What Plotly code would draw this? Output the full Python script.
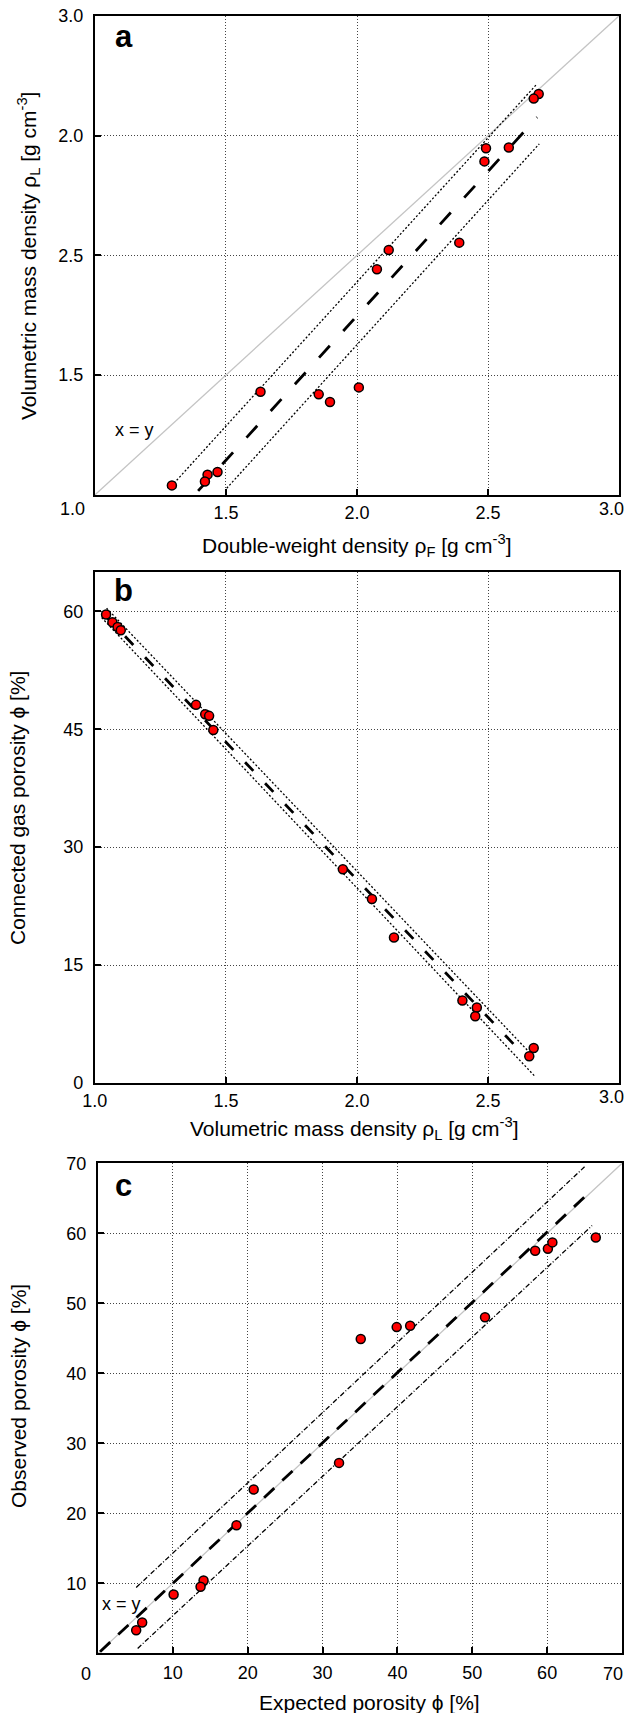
import plotly.graph_objects as go

# ---- data ----
# panel a: double-weight density vs volumetric mass density
rho_f_a = [2.693, 2.674, 2.492, 2.579, 2.486, 2.390, 2.121, 2.076,
           1.632, 2.007, 1.854, 1.897, 1.468, 1.430, 1.420, 1.294]
rho_l_a = [2.673, 2.654, 2.447, 2.450, 2.392, 2.053, 2.022, 1.942,
           1.431, 1.449, 1.420, 1.388, 1.096, 1.085, 1.056, 1.040]
fit_a_x = [1.394, 2.687]
fit_a_y = [1.017, 2.576]
upper_a_x = [1.302, 2.683]
upper_a_y = [1.049, 2.711]
lower_a_x = [1.503, 2.695]
lower_a_y = [1.028, 2.465]

# panel b: volumetric mass density vs connected gas porosity
rho_l_b = [1.043, 1.067, 1.087, 1.099, 1.386, 1.421, 1.436, 1.452,
           1.946, 2.057, 2.141, 2.402, 2.457, 2.451, 2.674, 2.657]
phi_b = [59.6, 58.6, 58.0, 57.6, 48.1, 46.9, 46.7, 44.9,
         27.2, 23.4, 18.5, 10.5, 9.6, 8.5, 4.45, 3.4]
fit_b_x = [1.039, 2.637]
fit_b_y = [59.5, 3.56]
upper_b_x = [1.045, 2.649]
upper_b_y = [60.4, 4.2]
lower_b_x = [1.026, 2.677]
lower_b_y = [59.2, 0.9]

# panel c: expected vs observed porosity
phi_exp_c = [35.1, 39.9, 41.7, 51.7, 58.4, 60.1, 60.7, 66.5,
             32.2, 20.8, 18.5, 14.1, 13.7, 10.1, 5.9, 5.1]
phi_obs_c = [44.9, 46.6, 46.8, 48.0, 57.5, 57.8, 58.7, 59.4,
             27.2, 23.4, 18.3, 10.4, 9.5, 8.4, 4.4, 3.3]
fit_c_x = [0.27, 65.7]
fit_c_y = [0.23, 65.9]
upper_c_x = [5.1, 65.0]
upper_c_y = [9.4, 69.5]
lower_c_x = [5.3, 66.0]
lower_c_y = [0.7, 61.1]

# tick labels (panel a y labels are printed swapped in the original)
ticks_a_x = [1.0, 1.5, 2.0, 2.5, 3.0]
ticktext_a_x = ["1.0", "1.5", "2.0", "2.5", "3.0"]
ticks_a_y = [1.5, 2.0, 2.5, 3.0]
ticktext_a_y = ["1.5", "2.5", "2.0", "3.0"]
ticks_b_y = [0, 15, 30, 45, 60]
ticks_c_x = [0, 10, 20, 30, 40, 50, 60, 70]
ticks_c_y = [10, 20, 30, 40, 50, 60, 70]

W, H = 624, 1713
FONT = "Liberation Sans, Arial, Helvetica, sans-serif"


def px_x(p):
    return p / W


def px_y(p):
    return 1 - p / H


fig = go.Figure()


def add_panel(n, ident_x, ident_y, fit, upper, lower, pts, band_dash, fit_dash):
    xa, ya = ("x", "y") if n == 1 else ("x%d" % n, "y%d" % n)
    if ident_x is not None:
        fig.add_trace(go.Scatter(x=ident_x, y=ident_y, mode="lines", xaxis=xa, yaxis=ya,
                                 line=dict(color="#c4c4c4", width=1.3), hoverinfo="skip"))
    for bx, by in (upper, lower):
        fig.add_trace(go.Scatter(x=bx, y=by, mode="lines", xaxis=xa, yaxis=ya,
                                 line=dict(color="black", width=1.3, dash=band_dash),
                                 hoverinfo="skip"))
    fig.add_trace(go.Scatter(x=fit[0], y=fit[1], mode="lines", xaxis=xa, yaxis=ya,
                             line=dict(color="black", width=2.8, dash=fit_dash),
                             hoverinfo="skip"))
    fig.add_trace(go.Scatter(x=pts[0], y=pts[1], mode="markers", xaxis=xa, yaxis=ya,
                             marker=dict(color="#ff0000", size=9,
                                         line=dict(color="black", width=1.5))))


add_panel(1, [1, 3], [1, 3], (fit_a_x, fit_a_y), (upper_a_x, upper_a_y),
          (lower_a_x, lower_a_y), (rho_f_a, rho_l_a), "2px,2px", "16px,20px")
add_panel(2, None, None, (fit_b_x, fit_b_y), (upper_b_x, upper_b_y),
          (lower_b_x, lower_b_y), (rho_l_b, phi_b), "2px,2px", "12px,17px")
add_panel(3, [0, 70], [0, 70], (fit_c_x, fit_c_y), (upper_c_x, upper_c_y),
          (lower_c_x, lower_c_y), (phi_exp_c, phi_obs_c), "5px,2px,1px,2px", "14px,11px")

axis_style = dict(
    showline=True, linecolor="black", linewidth=2, mirror=True,
    ticks="inside", ticklen=6, tickwidth=1.5, tickcolor="black",
    showgrid=True, gridcolor="#444444", gridwidth=1, griddash="1px,2px",
    zeroline=False, tickfont=dict(family=FONT, size=18, color="black"),
    fixedrange=True, automargin=False, ticklabeloverflow="allow",
)

dom_ab = [px_x(94.8), px_x(619.2)]
dom_c = [px_x(98), px_x(622)]

# first and last x labels are nudged in the original, drawn as annotations below
fig.update_layout(
    width=W, height=H,
    margin=dict(l=0, r=0, t=0, b=0, pad=0),
    plot_bgcolor="white", paper_bgcolor="white",
    showlegend=False,
    font=dict(family=FONT, color="black"),
    xaxis=dict(axis_style, domain=dom_ab, anchor="y", range=[1, 3],
               tickvals=ticks_a_x, ticktext=[""] + ticktext_a_x[1:-1] + [""]),
    yaxis=dict(axis_style, domain=[px_y(495), px_y(15.7)], anchor="x", range=[1, 3],
               tickvals=ticks_a_y, ticktext=ticktext_a_y, ticklabelstandoff=6),
    xaxis2=dict(axis_style, domain=dom_ab, anchor="y2", range=[1, 3],
                tickvals=ticks_a_x, ticktext=ticktext_a_x[:-1] + [""]),
    yaxis2=dict(axis_style, domain=[px_y(1083), px_y(572)], anchor="x2", range=[0, 65],
                tickvals=ticks_b_y, ticklabelstandoff=6),
    xaxis3=dict(axis_style, domain=dom_c, anchor="y3", range=[0, 70],
                tickvals=ticks_c_x,
                ticktext=[""] + [str(v) for v in ticks_c_x[1:-1]] + [""],
                ticklabelstandoff=2),
    yaxis3=dict(axis_style, domain=[px_y(1653.3), px_y(1163.3)], anchor="x3", range=[0, 70],
                tickvals=ticks_c_y, ticklabelstandoff=6),
)

ann = []
# panel letters
for letter, cy in (("a", 37), ("b", 590), ("c", 1185)):
    ann.append(dict(text="<b>%s</b>" % letter, x=px_x(124), y=px_y(cy),
                    font=dict(size=31, family=FONT)))
# x = y labels
ann.append(dict(text="x = y", x=1.153, y=1.271, xref="x", yref="y", font=dict(size=18)))
ann.append(dict(text="x = y", x=3.2, y=7.0, xref="x3", yref="y3", font=dict(size=18)))
# nudged end tick labels
ann.append(dict(text=ticktext_a_x[0], x=1.0, y=1.0, xref="x", yref="y",
                xanchor="right", yanchor="top", xshift=-8, yshift=-2, font=dict(size=18)))
ann.append(dict(text=ticktext_a_x[-1], x=px_x(611), y=1.0, yref="y",
                yanchor="top", yshift=-2, font=dict(size=18)))
ann.append(dict(text=ticktext_a_x[-1], x=px_x(611), y=0, yref="y2",
                yanchor="top", yshift=-2, font=dict(size=18)))
ann.append(dict(text=str(ticks_c_x[0]), x=0, y=0, xref="x3", yref="y3",
                xanchor="right", yanchor="top", xshift=-5, yshift=-9, font=dict(size=18)))
ann.append(dict(text=str(ticks_c_x[-1]), x=px_x(613), y=0, yref="y3",
                yanchor="top", yshift=-9, font=dict(size=18)))
# axis titles
ann.append(dict(text="Double-weight density ρ<sub>F</sub> [g cm<sup>-3</sup>]",
                x=px_x(356), y=px_y(545), font=dict(size=21)))
ann.append(dict(text="Volumetric mass density ρ<sub>L</sub> [g cm<sup>-3</sup>]",
                x=px_x(28), y=px_y(256), textangle=-90, font=dict(size=21)))
ann.append(dict(text="Volumetric mass density ρ<sub>L</sub> [g cm<sup>-3</sup>]",
                x=px_x(354), y=px_y(1128), font=dict(size=21)))
ann.append(dict(text="Connected gas porosity ϕ [%]",
                x=px_x(18), y=px_y(808), textangle=-90, font=dict(size=21)))
ann.append(dict(text="Expected porosity ϕ [%]",
                x=px_x(369), y=px_y(1702), font=dict(size=21)))
ann.append(dict(text="Observed porosity ϕ [%]",
                x=px_x(18), y=px_y(1396), textangle=-90, font=dict(size=21)))

for a in ann:
    a.setdefault("xref", "paper")
    a.setdefault("yref", "paper")
    a.setdefault("xanchor", "center")
    a.setdefault("yanchor", "middle")
    a["showarrow"] = False
    fig.add_annotation(**a)

# the page body has a default 8px margin; drop it so the figure fills the window
fig.write_html("out.html", config={"displayModeBar": False},
               post_script="document.body.style.margin='0px';")
